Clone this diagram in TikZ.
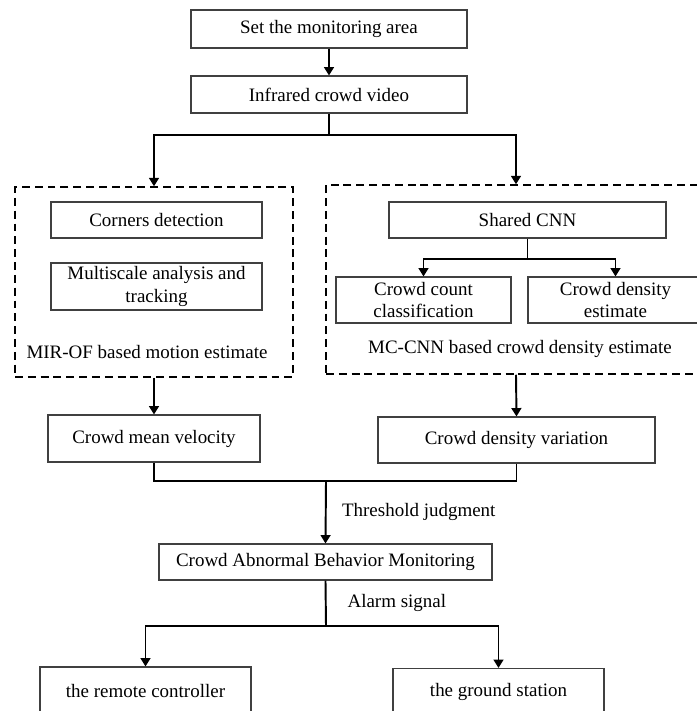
\documentclass[tikz,border=0pt]{standalone}
\usepackage{fontspec}
\setmainfont{Liberation Serif}
\usetikzlibrary{positioning, arrows.meta}

\begin{document}
\begin{tikzpicture}[
      box/.style={draw=black!75, line width=0.6pt, minimum height=0.74cm,
          font=\fontsize{10.8}{13}\selectfont, align=center, inner sep=1pt},
      grp/.style={draw, dash pattern=on 4.5pt off 2.8pt, line width=0.85pt},
      lbl/.style={font=\fontsize{10.8}{13}\selectfont},
      wire/.style={line width=1.1pt},
      arr/.style={wire, -{Triangle[width=5.6pt, length=4.8pt]}},
    ]
    \useasboundingbox (0,0) rectangle (13.94,-14.22);
    \clip (0,0) rectangle (13.94,-14.22);

    % Input chain
    \node[box, minimum width=5.52cm, minimum height=0.76cm] (set) at (6.58,-0.58) {Set the monitoring area};
    \node[box, minimum width=5.52cm] (video) at (6.58,-1.89) {Infrared crowd video};

    % Dashed groups
    \node[grp, minimum width=5.56cm, minimum height=3.80cm] (mir) at (3.08,-5.64) {};
    \node[grp, minimum width=7.60cm, minimum height=3.78cm] (mcc) at (10.32,-5.59) {};

    % Motion branch
    \node[box, minimum width=4.22cm, minimum height=0.72cm] (corner) at (3.13,-4.40) {Corners detection};
    \node[box, minimum width=4.22cm, minimum height=0.94cm] (multi) at (3.13,-5.73) {Multiscale analysis and\\tracking};
    \node[lbl] (mirlbl) at (2.94,-7.04) {MIR-OF based motion estimate};

    % Density branch
    \node[box, minimum width=5.54cm, minimum height=0.72cm] (shared) at (10.55,-4.40) {Shared CNN};
    \node[box, minimum width=3.50cm, minimum height=0.92cm] (count) at (8.47,-6.00) {Crowd count\\classification};
    \node[box, minimum width=3.50cm, minimum height=0.92cm] (dens) at (12.31,-6.00) {Crowd density\\estimate};
    \node[lbl] (mcclbl) at (10.40,-6.98) {MC-CNN based crowd density estimate};

    % Outputs
    \node[box, minimum width=4.24cm, minimum height=0.94cm] (vel) at (3.08,-8.77) {Crowd mean velocity};
    \node[box, minimum width=5.54cm, minimum height=0.92cm] (var) at (10.33,-8.80) {Crowd density variation};
    \node[box, minimum width=6.66cm, minimum height=0.72cm] (cabm) at (6.51,-11.24) {Crowd Abnormal Behavior Monitoring};
    \node[box, minimum width=4.22cm, minimum height=0.94cm] (remote) at (2.91,-13.81) {the remote controller};
    \node[box, minimum width=4.22cm, minimum height=0.94cm] (ground) at (9.97,-13.84) {the ground station};

    % Split points
    \coordinate (s1) at (6.58,-2.70);
    \coordinate (s2) at (10.55,-5.18);
    \coordinate (m) at (6.52,-9.62);
    \coordinate (a) at (6.52,-12.52);

    % Connectors
    \draw[arr] (set) -- (video);
    \draw[wire] (video.south) -- (s1);
    \draw[arr] (s1) -| (mir.north);
    \draw[arr] (s1) -| (mcc.north);
    \draw[wire] (shared.south) -- (s2);
    \draw[arr] (s2) -| (count.north);
    \draw[arr] (s2) -| (dens.north);
    \draw[arr] (mir.south) -- (vel.north);
    \draw[arr] (mcc.south) -- (var.north);
    \draw[wire] (vel.south) |- (m);
    \draw[wire] (var.south) |- (m);
    \draw[arr] (m) -- (cabm.north)
    node[lbl, midway, right=0.19cm] (thr) {Threshold judgment};
    \draw[wire] (cabm.south) -- (a)
    node[lbl, midway, right=0.30cm] (alarm) {Alarm signal};
    \draw[arr] (a) -| (remote.north);
    \draw[arr] (a) -| (ground.north);
  \end{tikzpicture}
\end{document}
